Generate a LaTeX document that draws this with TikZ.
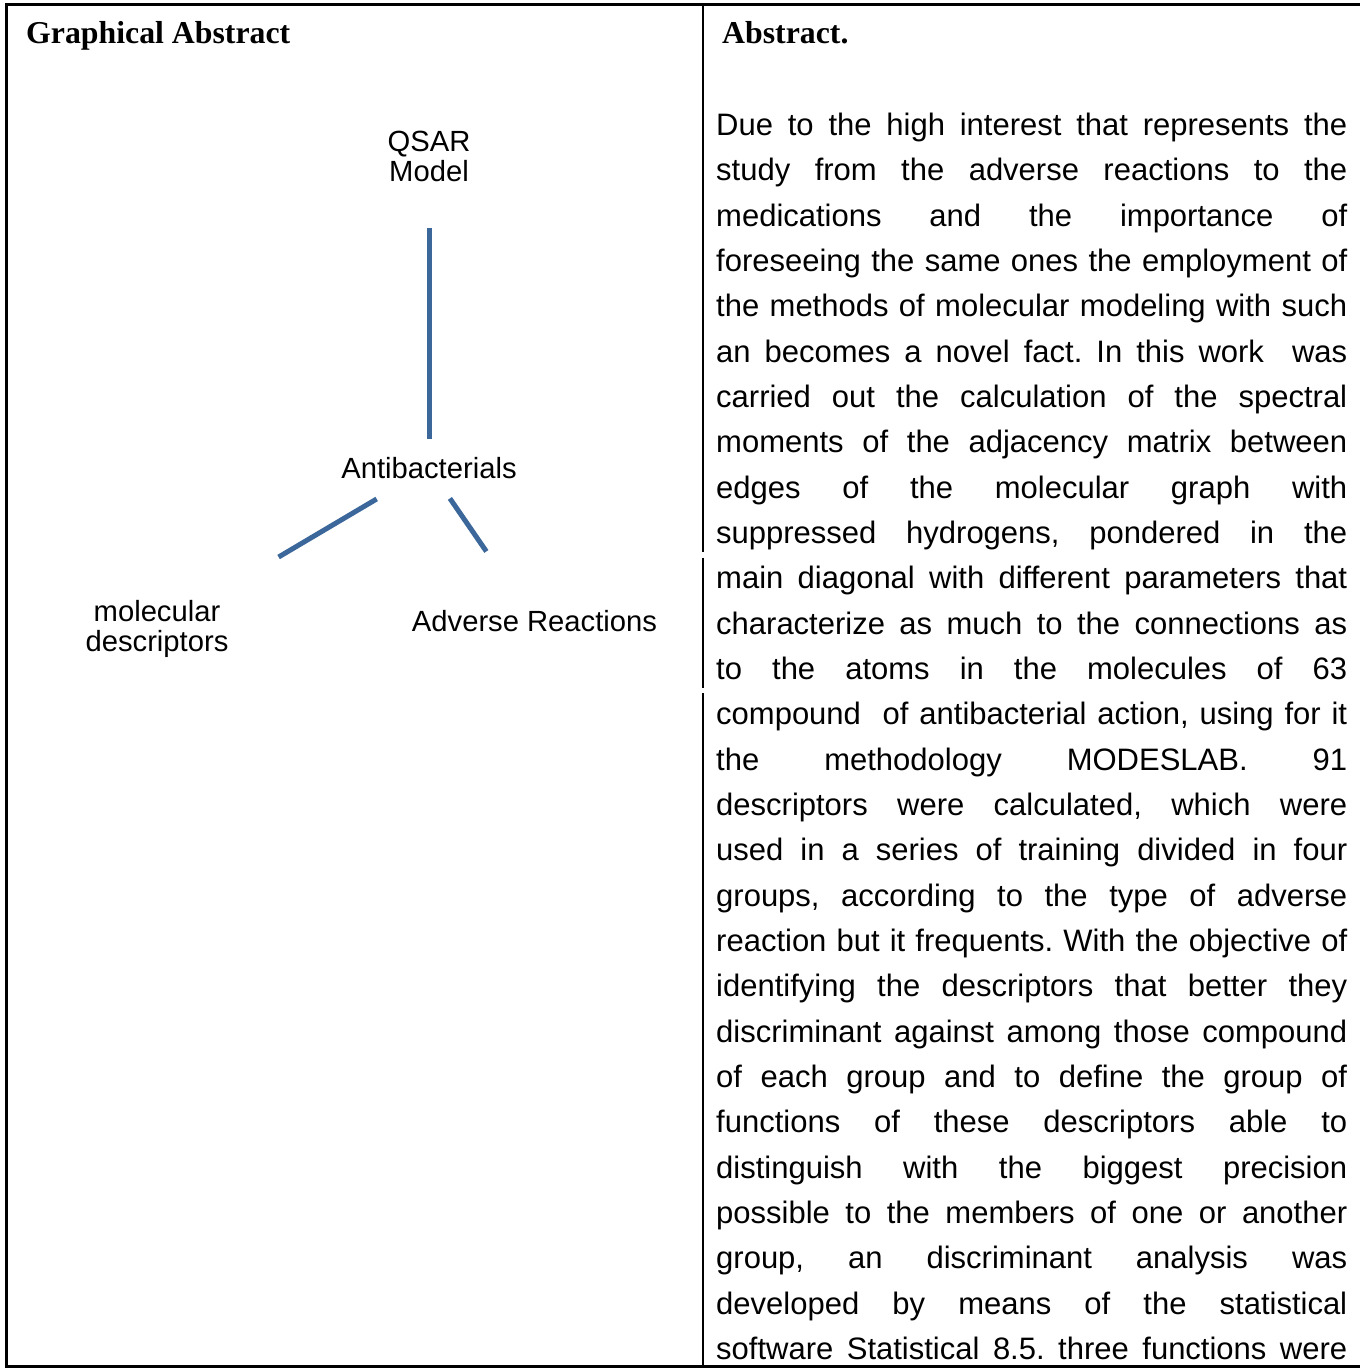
\documentclass[tikz,border=0pt]{standalone}
\usepackage{fontspec}
\setmainfont{Liberation Sans}
\newfontfamily\headfont{Liberation Serif}
\definecolor{connblue}{HTML}{3C679B}
\frenchspacing
\begin{document}
\begin{tikzpicture}[x=1pt,y=-1pt,
  lbl/.style={inner sep=0pt, align=center, font=\fontsize{29.2}{30}\selectfont},
  heading/.style={inner sep=0pt, anchor=base west, font=\headfont\bfseries\fontsize{31.8}{36}\selectfont},
  bodyline/.style={inner sep=0pt, anchor=base west, font=\fontsize{31}{45.25}\selectfont},
  conn/.style={draw=connblue, line width=5pt},
  frameline/.style={draw=black, line width=3pt},
  divline/.style={draw=black, line width=2.5pt}]
\useasboundingbox (0,0) rectangle (1360,1370);
% frame
\draw[frameline] (1360,4.7) -- (6.5,4.7) -- (6.5,1366.3) -- (1360,1366.3);
\draw[divline] (703,4.7) -- (703,551.5);
\draw[divline] (703,557.5) -- (703,688);
\draw[divline] (703,693) -- (703,1366.3);
% headings
\node[heading] (gah) at (26,44) {Graphical Abstract};
\node[heading] (abh) at (722,44) {Abstract.};
% diagram
\node[lbl] (qsar) at (429,156) {QSAR\\Model};
\node[lbl] (anti) at (429,468) {Antibacterials};
\node[lbl] (mol) at (157,629) {molecular\\descriptors};
\node[lbl] (adv) at (534.5,621.5) {Adverse Reactions};
\draw[conn, shorten <=72pt, shorten >=29pt] (qsar.center) -- (anti.center);
\draw[conn, shorten <=60.8pt, shorten >=141.3pt] (anti.center) -- (mol.center);
\draw[conn, shorten <=36.9pt, shorten >=85pt] (anti.center) -- (adv.center);
% abstract text
\foreach \txt [count=\i from 0] in {
 {Due to the high interest that represents the},
 {study from the adverse reactions to the},
 {medications and the importance of},
 {foreseeing the same ones the employment of},
 {the methods of molecular modeling with such},
 {an becomes a novel fact. In this work \ was},
 {carried out the calculation of the spectral},
 {moments of the adjacency matrix between},
 {edges of the molecular graph with},
 {suppressed hydrogens, pondered in the},
 {main diagonal with different parameters that},
 {characterize as much to the connections as},
 {to the atoms in the molecules of 63},
 {compound \ of antibacterial action, using for it},
 {the methodology MODESLAB. 91},
 {descriptors were calculated, which were},
 {used in a series of training divided in four},
 {groups, according to the type of adverse},
 {reaction but it frequents. With the objective of},
 {identifying the descriptors that better they},
 {discriminant against among those compound},
 {of each group and to define the group of},
 {functions of these descriptors able to},
 {distinguish with the biggest precision},
 {possible to the members of one or another},
 {group, an discriminant analysis was},
 {developed by means of the statistical},
 {software Statistical 8.5. three functions were}}
 \node[bodyline] (line\i) at (716,135.5+\i*45.33) {\hbox to 631pt{\txt}};
\end{tikzpicture}
\end{document}
